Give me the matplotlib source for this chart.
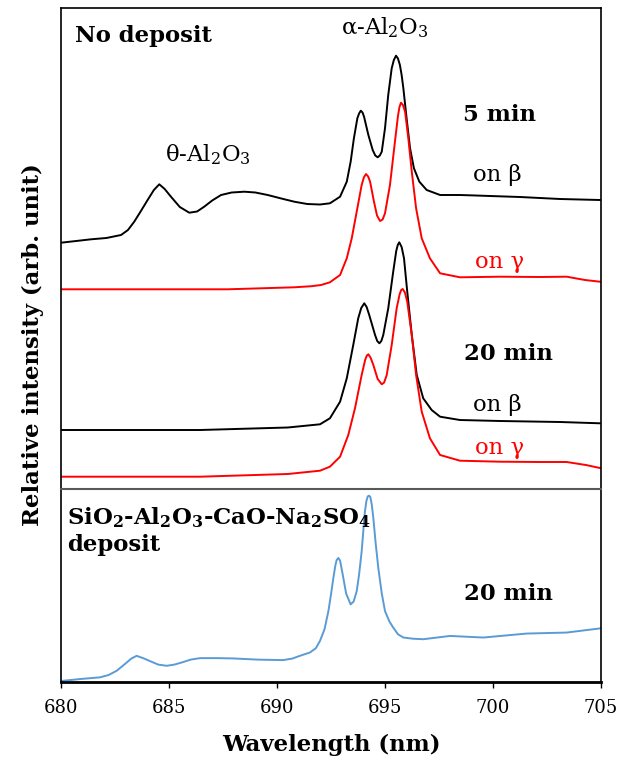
import matplotlib
matplotlib.use("Agg")
import matplotlib.pyplot as plt

plt.rcParams['font.family'] = ['DejaVu Serif']
plt.rcParams['mathtext.default'] = 'regular'

# ---- data (wavelength nm, relative intensity incl. offsets) ----
wl_b5 = [680.00, 680.70, 681.39, 682.10, 682.78, 683.10, 683.39, 683.70, 684.01, 684.30,
         684.55, 684.80, 685.09, 685.50, 685.94, 686.30, 686.63, 687.00, 687.41, 687.90,
         688.49, 689.00, 689.57, 690.20, 690.80, 691.40, 691.99, 692.45, 692.92, 693.23,
         693.41, 693.56, 693.72, 693.80, 693.88, 693.96, 694.03, 694.23, 694.43, 694.55,
         694.66, 694.76, 694.85, 695.00, 695.15, 695.31, 695.41, 695.51, 695.60, 695.69,
         695.77, 695.85, 696.00, 696.16, 696.34, 696.59, 696.93, 697.55, 698.47, 699.20,
         699.86, 701.25, 703.10, 704.95]
in_b5 = [246.3, 248.0, 249.7, 251.0, 254.0, 259.0, 267.3, 278.0, 289.0, 299.0,
         304.7, 300.0, 292.3, 282.0, 276.3, 277.5, 282.3, 288.5, 294.0, 296.5,
         297.3, 296.5, 294.0, 290.5, 287.3, 285.0, 284.5, 285.7, 292.3, 307.3,
         327.3, 350.7, 370.7, 375.5, 378.3, 376.5, 372.3, 354.0, 339.0, 333.5,
         331.7, 333.5, 337.3, 360.7, 394.0, 420.7, 429.0, 433.3, 430.5, 424.0,
         414.0, 400.7, 370.7, 340.7, 320.7, 307.3, 299.0, 294.0, 294.0, 293.5,
         293.0, 292.0, 290.0, 289.0]

wl_r5 = [680.00, 687.72, 690.80, 691.60, 692.04, 692.45, 692.92, 693.23, 693.46, 693.69,
         693.92, 694.02, 694.12, 694.22, 694.31, 694.49, 694.63, 694.77, 694.89, 695.00,
         695.23, 695.46, 695.60, 695.67, 695.74, 695.83, 695.93, 696.08, 696.24, 696.44,
         696.70, 697.08, 697.55, 698.47, 700.32, 702.18, 703.41, 704.26, 704.95]
in_r5 = [199.7, 199.7, 201.7, 202.8, 204.0, 206.7, 214.0, 230.7, 250.7, 277.3,
         304.0, 311.5, 315.0, 312.5, 307.3, 287.3, 273.5, 268.0, 269.5, 275.7,
         304.0, 347.3, 373.0, 382.0, 386.3, 384.0, 377.3, 350.7, 317.3, 280.7,
         250.7, 230.7, 215.7, 211.7, 212.3, 212.0, 212.3, 209.0, 207.3]

wl_b20 = [680.00, 686.44, 690.50, 691.99, 692.45, 692.92, 693.23, 693.53, 693.76, 693.90,
          694.04, 694.15, 694.27, 694.54, 694.64, 694.74, 694.83, 694.92, 695.15, 695.38,
          695.52, 695.59, 695.66, 695.77, 695.88, 696.03, 696.24, 696.47, 696.77, 697.16,
          697.55, 698.47, 700.32, 703.10, 704.95]
in_b20 = [59.0, 59.0, 61.5, 64.7, 70.7, 87.3, 110.7, 144.0, 170.7, 181.0,
          185.7, 182.0, 174.0, 154.0, 148.0, 145.7, 148.0, 154.0, 180.7, 217.3,
          238.0, 244.0, 246.7, 242.0, 230.7, 197.3, 154.0, 114.0, 90.7, 79.0,
          72.3, 69.0, 68.0, 67.0, 65.7]

wl_r20 = [680.00, 686.44, 690.50, 691.99, 692.45, 692.92, 693.30, 693.61, 693.92, 694.08,
          694.16, 694.23, 694.34, 694.46, 694.66, 694.85, 694.96, 695.08, 695.31, 695.54,
          695.68, 695.75, 695.82, 695.92, 696.03, 696.24, 696.44, 696.70, 697.08, 697.55,
          698.47, 700.32, 702.18, 703.41, 704.30, 704.95]
in_r20 = [12.3, 12.3, 15.0, 18.3, 22.3, 32.3, 54.0, 80.7, 114.0, 129.0,
          133.5, 134.7, 131.0, 124.0, 110.0, 104.7, 106.5, 114.0, 144.0, 180.7,
          195.0, 199.0, 200.0, 196.5, 187.3, 154.0, 114.0, 77.3, 50.7, 34.0,
          28.3, 27.3, 27.0, 27.0, 24.0, 21.0]

wl_dep = [680.00, 680.90, 681.81, 682.20, 682.58, 683.01, 683.25, 683.50, 683.80, 684.12,
          684.50, 684.89, 685.25, 685.65, 686.00, 686.44, 687.20, 687.96, 689.10, 690.28,
          690.70, 691.06, 691.53, 691.80, 691.99, 692.20, 692.38, 692.50, 692.61, 692.70,
          692.76, 692.84, 692.92, 693.00, 693.07, 693.20, 693.41, 693.55, 693.69, 693.80,
          693.92, 694.00, 694.07, 694.14, 694.20, 694.26, 694.32, 694.39, 694.46, 694.57,
          694.69, 694.85, 695.00, 695.20, 695.38, 695.60, 695.85, 696.30, 696.77, 698.01,
          699.55, 701.56, 703.41, 705.00]
in_dep = [0.0, 2.0, 3.7, 6.0, 10.3, 18.0, 22.5, 25.3, 23.0, 20.0,
          16.5, 15.3, 16.5, 19.0, 21.5, 23.0, 23.0, 22.7, 21.5, 21.0,
          22.5, 25.3, 28.7, 33.0, 40.3, 52.0, 70.3, 87.0, 103.7, 116.0,
          121.5, 123.7, 121.0, 112.0, 103.7, 88.0, 77.0, 80.0, 90.3, 107.0,
          130.3, 152.0, 170.3, 181.0, 185.5, 186.3, 185.0, 177.0, 163.7, 138.0,
          113.7, 88.0, 70.3, 60.0, 53.7, 47.0, 43.7, 42.5, 42.0, 45.3,
          43.7, 47.7, 48.7, 53.0]

xticks = [680, 685, 690, 695, 700, 705]

W, H = 619, 760
fig = plt.figure(figsize=(W / 100, H / 100), dpi=100)

L, R = 61 / W, 601 / W
y_top, y_mid, y_bot = 1 - 8 / H, 1 - 489 / H, 1 - 682 / H
ax1 = fig.add_axes([L, y_mid, R - L, y_top - y_mid])
ax2 = fig.add_axes([L, y_bot, R - L, y_mid - y_bot], sharex=ax1)

lw = 1.4
ax1.plot(wl_b5, in_b5, color='black', lw=lw)
ax1.plot(wl_r5, in_r5, color='red', lw=lw)
ax1.plot(wl_b20, in_b20, color='black', lw=lw)
ax1.plot(wl_r20, in_r20, color='red', lw=lw)
ax2.plot(wl_dep, in_dep, color='#5B9BD5', lw=lw)

ax1.set_xlim(680, 705)
ax1.set_ylim(0, 481)
ax2.set_ylim(-1, 193)

for ax in (ax1, ax2):
    ax.set_yticks([])
    for s in ax.spines.values():
        s.set_linewidth(1.2)
        s.set_color('black')
ax1.spines['bottom'].set_visible(False)
ax1.tick_params(axis='x', which='both', bottom=False, labelbottom=False)
ax2.spines['top'].set_color('#595959')
ax2.spines['top'].set_linewidth(1.5)
ax2.spines['bottom'].set_linewidth(2.0)

ax2.set_xticks(xticks)
ax2.tick_params(axis='x', direction='out', length=4, width=1, labelsize=13, pad=8)

fs = 16.4
ax1.text(680.65, 453, 'No deposit', fontsize=fs, fontweight='bold', ha='left', va='center')
ax1.text(695.0, 461, 'α-Al$_2$O$_3$', fontsize=fs, ha='center', va='center')
ax1.text(686.8, 334, 'θ-Al$_2$O$_3$', fontsize=fs, ha='center', va='center')
ax1.text(700.3, 374, '5 min', fontsize=fs, fontweight='bold', ha='center', va='center')
ax1.text(700.2, 314, 'on β', fontsize=fs, color='black', ha='center', va='center')
ax1.text(700.3, 227, 'on γ', fontsize=fs, color='red', ha='center', va='center')
ax1.text(700.7, 135, '20 min', fontsize=fs, fontweight='bold', ha='center', va='center')
ax1.text(700.2, 84, 'on β', fontsize=fs, color='black', ha='center', va='center')
ax1.text(700.3, 41, 'on γ', fontsize=fs, color='red', ha='center', va='center')

ax2.text(680.3, 177, 'SiO$_2$-Al$_2$O$_3$-CaO-Na$_2$SO$_4$\ndeposit', fontsize=fs,
         fontweight='bold', ha='left', va='top', linespacing=1.25)
ax2.text(700.7, 87, '20 min', fontsize=fs, fontweight='bold', ha='center', va='center')

fig.text(331 / W, 1 - 745 / H, 'Wavelength (nm)', fontsize=fs, fontweight='bold',
         ha='center', va='center')
fig.text(33 / W, 1 - 345 / H, 'Relative intensity (arb. unit)', fontsize=fs,
         fontweight='bold', ha='center', va='center', rotation=90)

fig.savefig('out.png', dpi=100)
